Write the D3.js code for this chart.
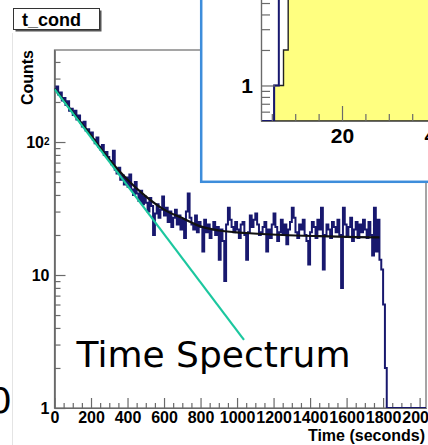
<!DOCTYPE html>
<html>
<head>
<meta charset="utf-8">
<script src="https://cdn.jsdelivr.net/npm/d3@7"></script>
<style>
  body { margin: 0; background: #fff; }
  svg { display: block; }
</style>
</head>
<body>
<div id="visual"></div>
<script>
// ---- main histogram: counts per 10 s bin, starting at t = 0
var binWidth = 10;
var counts = [
  248, 262, 228, 236, 205, 214, 190, 203, 172, 178,
  160, 172, 148, 158, 140, 131, 142, 122, 125, 115,
  118, 104, 98, 108, 92, 88, 95, 80, 84, 77,
  72, 68, 86, 62, 58, 64, 52, 56, 48, 54,
  46, 57, 44, 40, 50, 41, 36, 43, 34, 39,
  35, 30, 38, 33, 20, 29, 34, 27, 31, 39,
  28, 32, 25, 30, 23, 27, 31, 24, 28, 22,
  26, 19, 30, 41, 27, 24, 22, 28, 21, 25,
  23, 15, 26, 21, 24, 19, 22, 25, 20, 23,
  13, 22, 18, 9, 24, 32, 26, 23, 21, 25,
  22, 19, 24, 25, 20, 13, 21, 28, 23, 26,
  29, 24, 20, 21, 23, 25, 15, 22, 19, 24,
  29, 23, 18, 21, 26, 20, 24, 17, 22, 25,
  32, 27, 21, 19, 24, 22, 26, 20, 18, 12,
  21, 25, 23, 19, 26, 22, 32, 11, 20, 24,
  22, 19, 25, 23, 21, 26, 20, 8, 32, 24,
  20, 23, 27, 18, 22, 25, 19, 24, 21, 26,
  22, 19, 25, 20, 14, 32, 15, 26, 13, 11,
  6, 2,
  0, 0, 0, 0, 0, 0, 0, 0, 0, 0, 0, 0, 0, 0, 0, 0, 0, 0, 0, 0, 0, 0
];
var xTicks = [0, 200, 400, 600, 800, 1000, 1200, 1400, 1600, 1800, 2000];
var yTicks = [1, 10, 100];

// total fit (black)
var fitT = [0, 100, 200, 300, 400, 500, 600, 700, 800, 900, 1050, 1250, 1450, 1650, 1780];
var fitV = [252, 167, 112, 74, 52, 39, 31, 26.8, 23.2, 21.6, 20.7, 20.0, 19.6, 19.3, 19.2];
// exponential part (green), straight on the log scale
var expT = [0, 1038];
var expV = [250, 3.25];

// ---- inset: 1-unit bins
var insetBlueStart = 2.5;
var insetBlue = [0, 0, 0, 1, 14, 30, 45, 60, 70];
var insetYellowStart = 5.5;
var insetYellow = [1, 1, 2, 8, 15, 24, 33, 40, 46, 50, 53, 55, 56, 57, 57, 56, 55, 54, 53, 52,
                   50, 49, 48, 46, 45, 44, 42, 41, 40, 38, 37, 36, 35, 34, 33];
var insetXTicks = [20, 40];

var W = 428, H = 445;
var boldFont = "'Liberation Sans', Arial, Helvetica, sans-serif";
var axisCol = "#6a6a6a";
var labSize = 16;

var svg = d3.select("#visual").append("svg")
  .attr("width", W).attr("height", H);

// faint pad edge
svg.append("line").attr("x1", 12.5).attr("x2", 12.5).attr("y1", 33).attr("y2", H)
  .attr("stroke", "#e4e4e4");

var x = d3.scaleLinear().domain([0, 2035]).range([54.5, 426]);
var y = d3.scaleLog().domain([1, 492]).range([408, 50]);

// frame
svg.append("rect").attr("x", 54.5).attr("y", 50).attr("width", 426 - 54.5).attr("height", 358)
  .attr("fill", "none").attr("stroke", axisCol).attr("stroke-width", 1.2);

function styleAxis(g, size) {
  g.attr("font-family", boldFont).attr("font-weight", "bold").attr("font-size", size);
  g.selectAll("path, line").attr("stroke", axisCol).attr("stroke-width", 1.2);
  g.selectAll("text").attr("fill", "#000");
}

// x axis
var minorX = d3.range(0, 2035, 50).filter(function(d) { return d % 200 != 0; });
svg.append("g").attr("transform", "translate(0,408)")
  .call(d3.axisBottom(x).tickValues(minorX).tickSize(-5).tickSizeOuter(0).tickFormat(""))
  .call(styleAxis, labSize);
svg.append("g").attr("transform", "translate(0,408)")
  .call(d3.axisBottom(x).tickValues(xTicks).tickSize(-10).tickSizeOuter(0).tickPadding(4).tickFormat(d3.format("d")))
  .call(styleAxis, labSize);

// y axis
var minorY = [2, 3, 4, 5, 6, 7, 8, 9, 20, 30, 40, 50, 60, 70, 80, 90, 200, 300, 400];
svg.append("g").attr("transform", "translate(54.5,0)")
  .call(d3.axisLeft(y).tickValues(minorY).tickSize(-6).tickSizeOuter(0).tickFormat(""))
  .call(styleAxis, labSize);
var yAx = svg.append("g").attr("transform", "translate(54.5,0)")
  .call(d3.axisLeft(y).tickValues(yTicks).tickSize(-11).tickSizeOuter(0).tickPadding(5)
    .tickFormat(function(d) { return d == 100 ? "10" : String(d); }))
  .call(styleAxis, labSize);
yAx.selectAll(".tick text").filter(function(d) { return d == 100; })
  .append("tspan").attr("font-size", 10).attr("dy", -3).text("2");

// axis titles
svg.append("text").attr("x", 425).attr("y", 441).attr("text-anchor", "end")
  .attr("font-family", boldFont).attr("font-weight", "bold").attr("font-size", labSize)
  .text("Time (seconds)");
svg.append("text").attr("transform", "translate(33,50) rotate(-90)").attr("text-anchor", "end")
  .attr("font-family", boldFont).attr("font-weight", "bold").attr("font-size", labSize)
  .text("Counts");

// clip for the data
svg.append("defs").append("clipPath").attr("id", "clip")
  .append("rect").attr("x", 54.5).attr("y", 50).attr("width", 426 - 54.5).attr("height", 358);

function stepPoints(start, bw, vals, floor) {
  var pts = vals.map(function(v, i) { return [start + i * bw, Math.max(v, floor)]; });
  pts.push([start + vals.length * bw, Math.max(vals[vals.length - 1], floor)]);
  return pts;
}

var plot = svg.append("g").attr("clip-path", "url(#clip)");
var histLine = d3.line().curve(d3.curveStepAfter)
  .x(function(d) { return x(d[0]); }).y(function(d) { return y(d[1]); });
plot.append("path").datum(stepPoints(0, binWidth, counts, 1))
  .attr("fill", "none").attr("stroke", "#18186e").attr("stroke-width", 2)
  .attr("d", histLine);

var fitLine = d3.line().curve(d3.curveMonotoneX)
  .x(function(d) { return x(d[0]); }).y(function(d) { return y(d[1]); });
plot.append("path").datum(fitT.map(function(t, i) { return [t, fitV[i]]; }))
  .attr("fill", "none").attr("stroke", "#111").attr("stroke-width", 2.2)
  .attr("d", fitLine);
plot.append("path").datum(expT.map(function(t, i) { return [t, expV[i]]; }))
  .attr("fill", "none").attr("stroke", "#1cc79f").attr("stroke-width", 2.2)
  .attr("d", d3.line().x(function(d) { return x(d[0]); }).y(function(d) { return y(d[1]); }));

// label
svg.append("text").attr("x", 76.5).attr("y", 367)
  .attr("font-family", "'DejaVu Sans', Verdana, sans-serif").attr("font-size", 36)
  .text("Time Spectrum");
svg.append("text").attr("x", 12).attr("y", 413).attr("text-anchor", "end")
  .attr("font-family", "'DejaVu Sans', Verdana, sans-serif").attr("font-size", 36)
  .text("0");

// ---- inset
var inset = svg.append("g");
inset.append("rect").attr("x", 201.2).attr("y", -20).attr("width", 260).attr("height", 201.8)
  .attr("fill", "#fff").attr("stroke", "#3d8ddb").attr("stroke-width", 2.5);

var ix = d3.scaleLinear().domain([2.69, 40]).range([261, 435.6]);
var iy = d3.scaleLog().domain([0.5, 10]).range([121, -32.5]);

inset.append("defs").append("clipPath").attr("id", "iclip")
  .append("rect").attr("x", 261).attr("y", -40).attr("width", 200).attr("height", 161);
var ip = inset.append("g").attr("clip-path", "url(#iclip)");

var yPts = stepPoints(insetYellowStart, 1, insetYellow, 0.5);
yPts.unshift([insetYellowStart, 0.5]);
ip.append("path").datum(yPts)
  .attr("fill", "#ffff80").attr("stroke", "#222").attr("stroke-width", 1.4)
  .attr("d", d3.area().curve(d3.curveStepAfter)
    .x(function(d) { return ix(d[0]); }).y0(121).y1(function(d) { return iy(d[1]); }));
ip.append("path").datum(stepPoints(insetBlueStart, 1, insetBlue, 0.5))
  .attr("fill", "none").attr("stroke", "#18186e").attr("stroke-width", 2)
  .attr("d", d3.line().curve(d3.curveStepAfter)
    .x(function(d) { return ix(d[0]); }).y(function(d) { return iy(d[1]); }));

inset.append("g").attr("transform", "translate(0,121)")
  .call(d3.axisBottom(ix).tickValues([5, 10, 15, 25, 30, 35]).tickSize(-7).tickSizeOuter(0).tickFormat(""))
  .call(styleAxis, 21);
inset.append("g").attr("transform", "translate(0,121)")
  .call(d3.axisBottom(ix).tickValues(insetXTicks).tickSize(-15).tickSizeOuter(0).tickPadding(7).tickFormat(d3.format("d")))
  .call(styleAxis, 21);
inset.append("g").attr("transform", "translate(261,0)")
  .call(d3.axisLeft(iy).tickValues([0.6, 0.7, 0.8, 0.9, 2, 3, 4, 5, 6, 7, 8, 9]).tickSize(-9).tickSizeOuter(0).tickFormat(""))
  .call(styleAxis, 21);
inset.append("g").attr("transform", "translate(261,0)")
  .call(d3.axisLeft(iy).tickValues([1]).tickSize(-14).tickSizeOuter(0).tickPadding(8).tickFormat(d3.format("d")))
  .call(styleAxis, 21);

// ---- title box
svg.append("rect").attr("x", 15.5).attr("y", 10.5).attr("width", 86).attr("height", 21).attr("fill", "#555");
svg.append("rect").attr("x", 13.5).attr("y", 8.5).attr("width", 86).attr("height", 21)
  .attr("fill", "#fff").attr("stroke", "#333").attr("stroke-width", 1);
svg.append("text").attr("x", 22).attr("y", 26)
  .attr("font-family", boldFont).attr("font-weight", "bold").attr("font-size", 18)
  .text("t_cond");
</script>
</body>
</html>
